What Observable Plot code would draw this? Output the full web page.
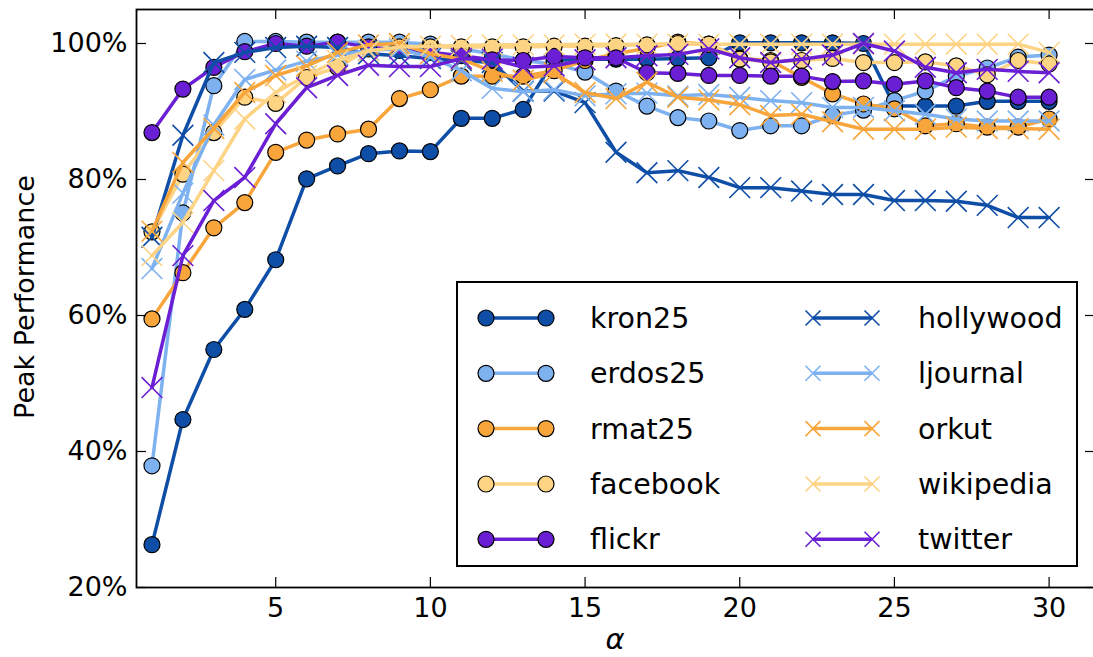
<!DOCTYPE html>
<html><head><meta charset="utf-8">
<script src="https://cdn.jsdelivr.net/npm/d3@7"></script>
<script src="https://cdn.jsdelivr.net/npm/@observablehq/plot@0.6"></script>
<style>
body{margin:0;background:#fff;}
#chart{position:relative;width:1093px;height:657px;overflow:hidden;}
#chart svg{position:absolute;left:0;top:0;}
</style></head><body><div id="chart"></div>
<script>
const alpha = [1,2,3,4,5,6,7,8,9,10,11,12,13,14,15,16,17,18,19,20,21,22,23,24,25,26,27,28,29,30];

const kron25    = [26.3,44.7,55.0,60.9,68.2,80.1,82.0,83.8,84.2,84.1,89.0,89.0,90.3,97.5,97.7,97.7,97.7,97.8,97.9,100.1,100.1,100.1,100.1,100.0,90.8,90.8,90.8,91.5,91.5,91.5];
const erdos25   = [37.9,75.1,93.8,100.3,100.3,100.2,100.2,100.2,100.2,99.9,99.2,98.5,97.5,97.0,95.8,93.0,90.8,89.1,88.6,87.2,87.9,87.9,89.4,90.2,91.6,93.0,95.2,96.4,98.0,98.3];
const rmat25    = [59.5,66.3,72.9,76.6,84.0,85.8,86.7,87.4,91.9,93.2,95.2,95.2,95.2,96.0,97.5,98.5,99.3,100.2,99.9,97.8,97.5,95.0,92.6,91.1,90.4,87.9,88.2,87.7,87.7,88.9];
const facebook  = [72.3,80.8,86.9,92.1,91.2,95.0,96.5,99.2,99.5,99.5,99.5,99.5,99.5,99.6,99.6,99.7,99.8,100.0,99.9,97.7,97.3,97.5,97.8,97.2,97.2,97.3,96.7,95.4,97.5,97.0];
const flickr    = [86.9,93.3,96.5,98.8,100.0,99.6,100.2,99.5,99.0,98.7,98.2,97.6,97.5,98.1,97.9,97.9,95.7,95.6,95.3,95.3,95.2,95.2,94.4,94.5,94.0,94.5,93.5,93.0,92.1,92.1];
const hollywood = [71.5,86.5,97.2,98.7,99.4,99.6,99.4,98.5,98.2,97.8,97.5,97.2,93.0,93.0,91.3,84.0,81.0,81.3,80.3,78.8,78.8,78.3,77.8,77.8,76.9,76.9,76.8,76.2,74.4,74.4];
const ljournal  = [66.9,78.0,88.0,94.7,96.1,97.4,98.3,99.0,99.2,98.0,96.0,93.4,92.9,93.2,92.3,92.6,92.7,92.3,92.5,92.1,91.6,91.3,90.6,90.6,90.1,89.6,88.9,88.6,88.6,88.6];
const orkut     = [72.4,82.5,87.5,92.8,95.3,96.7,98.7,99.8,100.0,98.5,97.7,95.9,94.6,95.7,92.8,91.9,94.3,92.1,91.7,91.0,89.4,89.6,88.5,87.4,87.4,87.4,87.7,87.5,87.5,87.4];
const wikipedia = [68.8,73.7,81.3,88.9,92.8,95.3,97.5,98.9,99.5,99.6,99.7,99.8,99.8,99.8,99.9,99.9,99.9,99.9,99.9,99.9,99.9,99.9,99.9,99.9,99.9,99.9,99.9,99.9,99.9,98.7];
const twitter   = [49.4,68.8,76.9,80.3,88.2,93.5,95.3,96.8,96.6,96.6,97.8,97.7,96.5,96.7,97.6,97.9,98.2,98.4,99.2,97.9,97.2,97.7,98.3,100.0,98.9,96.5,95.7,96.2,95.9,95.7];

const seriesNames = ["kron25","erdos25","rmat25","facebook","flickr","hollywood","ljournal","orkut","wikipedia","twitter"];
const seriesValues = [kron25,erdos25,rmat25,facebook,flickr,hollywood,ljournal,orkut,wikipedia,twitter];
const seriesColors = ["#0f4ea6","#7db1f0","#f8a63c","#fdd384","#6a1fd4","#0f4ea6","#7db1f0","#f8a63c","#fdd384","#6a1fd4"];
const seriesMarker = ["circle","circle","circle","circle","circle","times","times","times","times","times"];

const xTicks = [5,10,15,20,25,30];
const yTicks = [20,40,60,80,100];

const W = 1093, H = 657;
const mL = 136, mR = -2, mT = 9, mB = 70;
const innerW = W - mL - mR, innerH = H - mT - mB;

const marks = [];
seriesNames.forEach((name, i) => {
  const rows = alpha.map((a, j) => ({alpha: a, value: seriesValues[i][j]}));
  marks.push(Plot.line(rows, {x: "alpha", y: "value", stroke: seriesColors[i], strokeWidth: 3.5, strokeLinejoin: "round"}));
  if (seriesMarker[i] === "circle") {
    marks.push(Plot.dot(rows, {x: "alpha", y: "value", r: 8, fill: seriesColors[i], stroke: "black", strokeWidth: 1.2}));
  } else {
    marks.push(Plot.dot(rows, {x: "alpha", y: "value", r: 9.5, symbol: "times", stroke: seriesColors[i], strokeWidth: 1.6}));
  }
});

const chart = Plot.plot({
  width: W, height: H,
  marginLeft: mL, marginRight: mR, marginTop: mT, marginBottom: mB,
  style: {fontFamily: "DejaVu Sans", fontSize: "27px", background: "white", color: "black"},
  x: {domain: [0.5, 31.5], label: null},
  y: {domain: [20, 105], label: null},
  marks: [
    ...marks,
    Plot.tickX(xTicks, {x: d => d, insetTop: innerH - 10, stroke: "black", strokeWidth: 1.2}),
    Plot.tickX(xTicks, {x: d => d, insetBottom: innerH - 10, stroke: "black", strokeWidth: 1.2}),
    Plot.tickY(yTicks, {y: d => d, insetRight: innerW - 10, stroke: "black", strokeWidth: 1.2}),
    Plot.tickY(yTicks, {y: d => d, insetLeft: innerW - 10, stroke: "black", strokeWidth: 1.2}),
    Plot.frame({stroke: "black", strokeWidth: 1.8}),
    Plot.axisX({ticks: xTicks, tickSize: 0, tickPadding: 10, fontSize: 27, label: null}),
    Plot.axisY({ticks: yTicks, tickSize: 0, tickPadding: 9, fontSize: 27, tickFormat: d => d + "%", label: null})
  ]
});
document.getElementById("chart").appendChild(chart);

// axis titles and legend overlay
const svg = d3.select("#chart").append("svg")
  .attr("width", W).attr("height", H)
  .style("font-family", "DejaVu Sans");

svg.append("text").attr("transform", "translate(34,297) rotate(-90)")
  .attr("text-anchor", "middle").attr("font-size", 27).text("Peak Performance");
svg.append("text").attr("x", 615).attr("y", 649)
  .attr("text-anchor", "middle").attr("font-size", 29).attr("font-style", "italic").text("α");

const lg = svg.append("g");
lg.append("rect").attr("x", 457).attr("y", 282).attr("width", 620).attr("height", 284)
  .attr("fill", "white").attr("stroke", "black").attr("stroke-width", 2);
const rowY = [318, 373.3, 428.6, 484, 539.3];
seriesNames.forEach((name, i) => {
  const col = i < 5 ? 0 : 1;
  const y = rowY[i % 5];
  const x0 = col === 0 ? 486 : 813;
  const x1 = col === 0 ? 546 : 872;
  const tx = col === 0 ? 590 : 918;
  const c = seriesColors[i];
  lg.append("line").attr("x1", x0).attr("x2", x1).attr("y1", y).attr("y2", y)
    .attr("stroke", c).attr("stroke-width", 3.5);
  [x0, x1].forEach(cx => {
    if (seriesMarker[i] === "circle") {
      lg.append("circle").attr("cx", cx).attr("cy", y).attr("r", 8)
        .attr("fill", c).attr("stroke", "black").attr("stroke-width", 1.2);
    } else {
      const s = 7.5;
      lg.append("path").attr("d", `M${cx-s},${y-s}L${cx+s},${y+s}M${cx-s},${y+s}L${cx+s},${y-s}`)
        .attr("stroke", c).attr("stroke-width", 1.6).attr("fill", "none");
    }
  });
  lg.append("text").attr("x", tx).attr("y", y + 10).attr("font-size", 28.5).text(name);
});
</script></body></html>
